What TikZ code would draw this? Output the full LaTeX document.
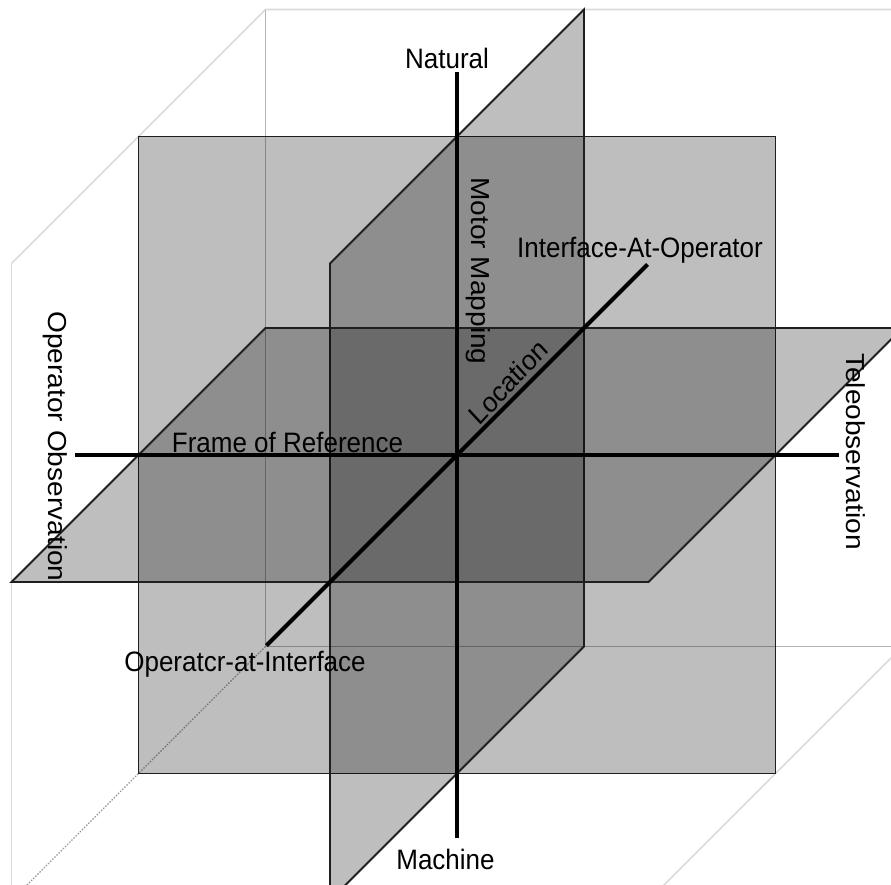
\documentclass[tikz,border=0pt]{standalone}
\usepackage{fontspec}
\setmainfont{Liberation Sans}
\definecolor{cubelight}{gray}{0.86}
\definecolor{cubemid}{gray}{0.71}
\definecolor{cubedot}{gray}{0.6}
\definecolor{edgecol}{gray}{0.12}
\begin{document}
\begin{tikzpicture}[x=1pt,y=-1pt,
  cubeedge/.style={draw=cubelight, line width=1.6pt},
  cubeback/.style={draw=cubemid, line width=1.6pt},
  cubedotted/.style={draw=cubedot, line width=1.3pt, dash pattern=on 1.5pt off 1.5pt},
  plane/.style={fill=black, fill opacity=0.255, draw=edgecol, draw opacity=1, line width=1.8pt, line join=miter},
  axisline/.style={draw=black, line width=4pt},
  lbl/.style={font=\fontsize{26}{30}\selectfont, inner sep=0pt, anchor=base, yscale=1.08}
]
\useasboundingbox (0,0) rectangle (891,884);
\clip (0,0) rectangle (891,884);

% centre
\coordinate (O) at (457,455);
% front (vertical, facing) plane
\coordinate (FTL) at (138.5,136.5);
\coordinate (FTR) at (775.5,136.5);
\coordinate (FBR) at (775.5,773.5);
\coordinate (FBL) at (138.5,773.5);
% side (vertical, receding) plane
\coordinate (S1) at (330,263.5);
\coordinate (S2) at (584,9.5);
\coordinate (S3) at (584,646.5);
\coordinate (S4) at (330,900.5);
% horizontal plane
\coordinate (H1) at (11.5,582);
\coordinate (H2) at (648.5,582);
\coordinate (H3) at (902.5,328);
\coordinate (H4) at (265.5,328);
% cube corners
\coordinate (C1) at (265.5,9.5);
\coordinate (C2) at (902.5,9.5);
\coordinate (C3) at (265.5,646.5);
\coordinate (C4) at (902.5,646.5);
\coordinate (C5) at (11.5,263.5);
\coordinate (C6) at (11.5,900.5);
\coordinate (C7) at (648.5,900.5);
% axis ends
\coordinate (AT) at (457,72);
\coordinate (AB) at (457,838);
\coordinate (AL) at (75,455);
\coordinate (AR) at (839,455);
\coordinate (DF) at (266.5,645.5);
\coordinate (DB) at (647.5,264.5);

% cube wireframe
\draw[cubeedge] (C5) -- (C1) -- (C2);
\draw[cubeedge] (C5) -- (C6);
\draw[cubeedge] (C4) -- (C7);
\draw[cubeback] (C1) -- (C3) -- (C4);
\draw[cubedotted] (C3) -- (C6);

% planes
\draw[plane] (FTL) -- (FTR) -- (FBR) -- (FBL) -- cycle;
\draw[plane] (S1) -- (S2) -- (S3) -- (S4) -- cycle;
\draw[plane] (H1) -- (H2) -- (H3) -- (H4) -- cycle;

% axes
\draw[axisline] (AT) -- (AB);
\draw[axisline] (AL) -- (AR);
\draw[axisline] (DF) -- (DB);

% labels
\node[lbl] (natural) at (447,68) {Natural};
\node[lbl] (iao) at (640,257) {Interface-At-Operator};
\node[lbl] (frame) at (287.5,452) {Frame of Reference};
\node[lbl] (oai) at (245,671) {Operatcr-at-Interface};
\node[lbl] (machine) at (445.5,869) {Machine};
\node[lbl, rotate=-90] (motor) at (471,271) {Motor Mapping};
\node[lbl, rotate=-90] (opobs) at (48,446.5) {Operator Observation};
\node[lbl, rotate=-90] (teleobs) at (846,451.5) {Teleobservation};
\node[lbl, rotate=45] (loc) at (514.7,389.2) {Location};
\end{tikzpicture}
\end{document}
